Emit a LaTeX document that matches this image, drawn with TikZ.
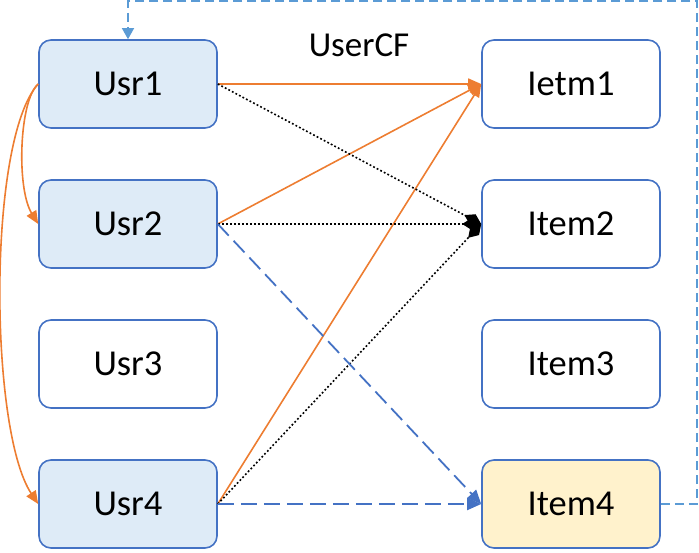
\documentclass[tikz,border=0pt]{standalone}
\usepackage{fontspec}
\setmainfont{Carlito}
\usetikzlibrary{arrows.meta}
\definecolor{bord}{HTML}{4472C4}
\definecolor{ufill}{HTML}{DEEBF7}
\definecolor{yfill}{HTML}{FFF2CC}
\definecolor{orng}{HTML}{ED7D31}
\definecolor{lblue}{HTML}{5B9BD5}
\tikzset{
  box/.style={draw=bord, line width=1.6pt, rounded corners=12pt, minimum width=178pt, minimum height=88pt, inner sep=0pt, font=\fontsize{36.5}{42}\selectfont},
  ubox/.style={box, fill=ufill},
  ibox/.style={box, fill=white},
  oarr/.style={draw=orng, line width=1.6pt, -{Triangle[length=13pt,width=11pt]}},
  darr/.style={draw=black, line width=1.6pt, dash pattern=on 1.8pt off 2.2pt, -{Diamond[length=19pt,width=12pt,line width=0pt]}},
  barr/.style={draw=bord, line width=1.8pt, dash pattern=on 16pt off 7pt, -{Triangle[length=14pt,width=12pt]}},
  fback/.style={draw=lblue, line width=1.4pt, dash pattern=on 9pt off 5pt, -{Triangle[length=11pt,width=12pt]}}
}
\begin{document}
\begin{tikzpicture}[x=1pt,y=-1pt]
\useasboundingbox (0,0) rectangle (699,552);
\node[ubox] (u1) at (128,84) {Usr1};
\node[ubox] (u2) at (128,224) {Usr2};
\node[ibox] (u3) at (128,364) {Usr3};
\node[ubox] (u4) at (128,504) {Usr4};
\node[ibox] (i1) at (571,84) {Ietm1};
\node[ibox] (i2) at (571,224) {Item2};
\node[ibox] (i3) at (571,364) {Item3};
\node[box, fill=yfill] (i4) at (571,504) {Item4};
\node[font=\fontsize{35}{40}\selectfont] (t) at (359,45) {UserCF};
\coordinate (c1) at (697,504);
\coordinate (c2) at (697,1);
\coordinate (c3) at (128,1);
% orange
\draw[oarr] (u1.east) -- (i1.west);
\draw[oarr] (u2.east) -- (i1.west);
\draw[oarr] (u4.east) -- (i1.west);
\draw[oarr] (u1.west) .. controls +(-19,16) and +(-22,-36) .. (u2.west);
\draw[oarr] (u1.west) .. controls +(-51,56) and +(-49,-74) .. (u4.west);
% dotted
\draw[darr] (u1.east) -- (i2.west);
\draw[darr] (u2.east) -- (i2.west);
\draw[darr] (u4.east) -- (i2.west);
% blue dashed
\draw[barr] (u2.east) -- (i4.west);
\draw[barr] (u4.east) -- (i4.west);
% feedback
\draw[fback] (i4.east) -- (c1) -- (c2) -- (c3) -- (u1.north);
\end{tikzpicture}
\end{document}
